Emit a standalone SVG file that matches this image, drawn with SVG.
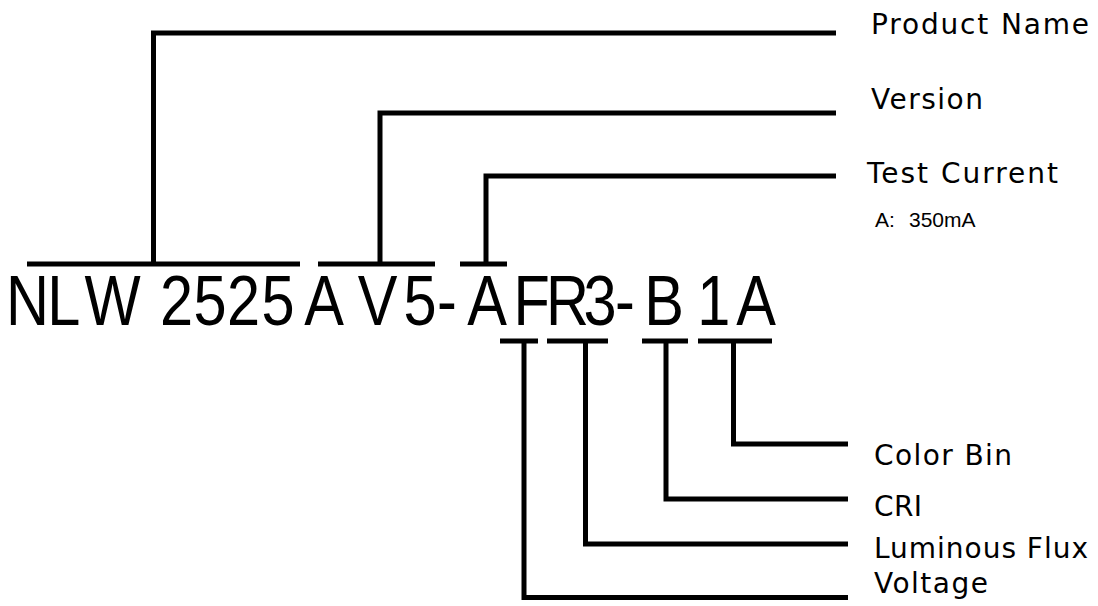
<svg xmlns="http://www.w3.org/2000/svg" width="1098" height="606" viewBox="0 0 1098 606">
<style>
.c{fill:none;stroke:#000;stroke-width:5;stroke-linejoin:miter;stroke-linecap:butt}
.lbl{font-family:"DejaVu Sans","Liberation Sans",sans-serif;font-size:28px;fill:#000}
.sub{font-family:"Liberation Sans",Arial,sans-serif;font-size:21px;fill:#000}
.code{font-family:"Liberation Sans",Arial,sans-serif;font-size:70px;fill:#000}
</style>
<rect width="1098" height="606" fill="#fff"/>
<g id="connectors">
<path class="c" d="M27,264H300M153.5,264V33H836"/>
<path class="c" d="M318,264H435M380,264V113H836"/>
<path class="c" d="M460,264H507M486,264V176H836"/>
<path class="c" d="M500,341H538M524,341V597.5H848"/>
<path class="c" d="M547,341H608M585.5,341V544H848"/>
<path class="c" d="M642,341H688M666,341V499H848"/>
<path class="c" d="M698,341H772M733.5,341V444H848"/>
</g>
<g id="code">
<text class="code" transform="scale(0.85,1)" x="7.06 55.65 99.41 170 188.24 227.65 267.06 307.65 357.88 420.82 474.71 514.24 549.65 604.12 642.35 686.47 723.65 745 757.88 810 820.24 866.12" y="325">NLW 2525AV5-AFR3- B 1A</text>
</g>
<g id="product-name"><text class="lbl" x="871" y="34" textLength="218" lengthAdjust="spacing">Product Name</text></g>
<g id="version"><text class="lbl" x="871" y="109" textLength="112" lengthAdjust="spacing">Version</text></g>
<g id="test-current"><text class="lbl" x="867" y="183" textLength="191" lengthAdjust="spacing">Test Current</text>
<text class="sub" x="875" y="227">A: <tspan x="909">350mA</tspan></text></g>
<g id="color-bin"><text class="lbl" x="874" y="465" textLength="138" lengthAdjust="spacing">Color Bin</text></g>
<g id="cri"><text class="lbl" x="874" y="516" textLength="48" lengthAdjust="spacing">CRI</text></g>
<g id="luminous-flux"><text class="lbl" x="874" y="558" textLength="214" lengthAdjust="spacing">Luminous Flux</text></g>
<g id="voltage"><text class="lbl" x="874" y="593" textLength="114" lengthAdjust="spacing">Voltage</text></g>
</svg>
